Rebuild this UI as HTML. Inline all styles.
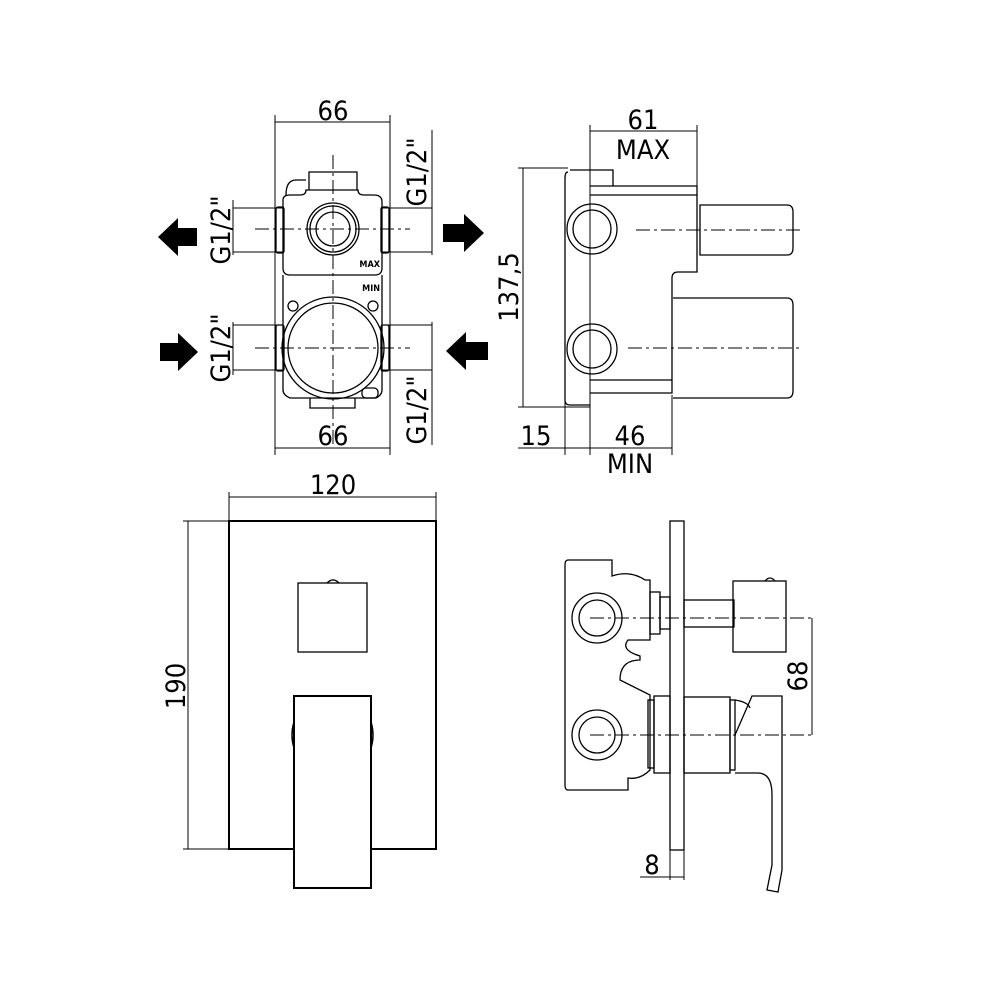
<!DOCTYPE html>
<html><head><style>body{margin:0;background:#fff}svg{display:block}text{font-family:"DejaVu Sans Condensed","DejaVu Sans","Liberation Sans Narrow",sans-serif;font-stretch:condensed;fill:#000}</style></head>
<body>
<svg width="1000" height="1000" viewBox="0 0 1000 1000" xmlns="http://www.w3.org/2000/svg">
<g fill="none" stroke="#000" stroke-width="1">
<!-- TOP LEFT VIEW -->
<line x1="275" y1="115" x2="275" y2="455"/><line x1="390" y1="115" x2="390" y2="455"/>
<line x1="275" y1="122" x2="390" y2="122"/><line x1="275" y1="448" x2="390" y2="448"/>
<line x1="233" y1="208" x2="283" y2="208"/><line x1="233" y1="252" x2="283" y2="252"/>
<line x1="382" y1="208" x2="432" y2="208"/><line x1="382" y1="252" x2="432" y2="252"/>
<line x1="233" y1="325" x2="283" y2="325"/><line x1="233" y1="370" x2="283" y2="370"/>
<line x1="382" y1="325" x2="432" y2="325"/><line x1="382" y1="370" x2="432" y2="370"/>
<line x1="432" y1="130" x2="432" y2="255"/><line x1="432" y1="322" x2="432" y2="445"/>
<line x1="233" y1="200" x2="233" y2="255"/><line x1="233" y1="322" x2="233" y2="375"/>
<g stroke-width="1.3">
<rect x="276" y="207" width="8" height="46" rx="2"/><rect x="381" y="207" width="8" height="46" rx="2"/>
<rect x="276" y="325" width="8" height="46" rx="2"/><rect x="381" y="325" width="8" height="46" rx="2"/>
<path d="M309 190 V172 h48 v18"/>
<path d="M283 200 Q283 195 290 195 H300 Q306 195 306 190 H358 Q358 195 364 195 H374 Q382 195 382 202 V268 Q382 275 375 275 H290 Q283 275 283 268 Z"/>
<path d="M283 275 V390 Q283 395 290 398 H376 Q382 395 382 390 V275"/>
<path d="M310 398 V408 H355 V398"/>
<path d="M286 195 Q286 180 296 180 H306"/>
<circle cx="333" cy="229" r="26"/><circle cx="333" cy="229" r="23"/><circle cx="333" cy="229" r="17"/>
<circle cx="333" cy="348" r="51"/><circle cx="333" cy="348" r="45"/>
<circle cx="293" cy="306" r="5"/><circle cx="373" cy="306" r="5"/>
<rect x="362" y="388" width="16" height="10" rx="4"/>
</g>
<g stroke-dasharray="14,4,3,4">
<line x1="333" y1="155" x2="333" y2="445"/>
<line x1="255" y1="229" x2="410" y2="229"/><line x1="255" y1="348" x2="410" y2="348"/>
</g>
<!-- TOP RIGHT VIEW -->
<line x1="518" y1="168" x2="568" y2="168"/><line x1="518" y1="407" x2="590" y2="407"/>
<line x1="523" y1="168" x2="523" y2="407"/>
<line x1="590" y1="125" x2="590" y2="455"/><line x1="697" y1="125" x2="697" y2="188"/>
<line x1="590" y1="131" x2="697" y2="131"/>
<line x1="565" y1="400" x2="565" y2="455"/><line x1="672" y1="395" x2="672" y2="455"/>
<line x1="518" y1="448" x2="672" y2="448"/>
<g stroke-width="1.3">
<path d="M568 172 Q565 172 565 178 V400 Q565 405 570 405 H590"/>
<path d="M570 170 H613 V186"/>
<path d="M590 186 H697 V272 H678 Q672 272 672 278 V393 H590"/>
<line x1="590" y1="195" x2="697" y2="195"/>
<line x1="590" y1="380" x2="672" y2="380"/>
<path d="M700 205 H787 Q793 205 793 212 V248 Q793 255 787 255 H700 Z"/>
<path d="M673 298 H787 Q793 298 793 305 V391 Q793 398 787 398 H673"/>
<circle cx="592" cy="229" r="25"/><circle cx="592" cy="229" r="19"/>
<circle cx="592" cy="349" r="25"/><circle cx="592" cy="349" r="19"/>
</g>
<g stroke-dasharray="14,4,3,4">
<line x1="636" y1="230" x2="802" y2="230"/><line x1="628" y1="348" x2="802" y2="348"/>
</g>
<!-- BOTTOM LEFT VIEW -->
<line x1="229" y1="492" x2="229" y2="520"/><line x1="436" y1="492" x2="436" y2="520"/>
<line x1="229" y1="497" x2="436" y2="497"/>
<line x1="183" y1="521" x2="229" y2="521"/><line x1="183" y1="849" x2="229" y2="849"/>
<line x1="188" y1="521" x2="188" y2="849"/>
<g stroke-width="2">
<rect x="229" y="521" width="207" height="328"/>
<rect x="298" y="583" width="69" height="69" stroke-width="1.3"/>
<rect x="294" y="696" width="77" height="192" fill="#fff"/>
</g>
<path d="M327 583 Q333 577 339 583" stroke-width="1.3"/>
<path d="M294 722 Q290 735 294 748 M371 722 Q375 735 371 748" stroke-width="1.5"/>
<!-- BOTTOM RIGHT VIEW -->
<g stroke-width="1.3">
<rect x="670" y="521" width="14" height="329"/>
<path d="M568 560 H612 V576 Q630 570 645 580 H650 V640 H628 Q620 650 640 656 V660 Q620 660 620 680 Q640 690 650 695 V770 Q640 780 628 778 V790 H568 Q565 790 565 785 V565 Q565 560 568 560"/>
<rect x="650" y="592" width="10" height="42"/>
<rect x="660" y="597" width="10" height="32"/>
<rect x="684" y="600" width="50" height="27"/>
<rect x="733" y="581" width="53" height="71"/>
<path d="M765 581 Q770 575 775 581"/>
<rect x="648" y="700" width="6" height="68"/>
<rect x="654" y="696" width="16" height="77"/>
<rect x="684" y="697" width="46" height="76"/>
<rect x="730" y="700" width="5" height="70"/>
<path d="M735 700 Q748 702 750 708 M735 735 L752 696 H782 V870 L778 892 L767 890 L772 865 V795 Q772 773 758 773 H735"/>
<circle cx="597" cy="618" r="25"/><circle cx="597" cy="618" r="18"/>
<circle cx="597" cy="735" r="25"/><circle cx="597" cy="735" r="18"/>
</g>
<g stroke-dasharray="14,4,3,4">
<line x1="590" y1="618" x2="815" y2="618"/><line x1="590" y1="735" x2="815" y2="735"/>
</g>
<line x1="812" y1="618" x2="812" y2="735"/>
<line x1="670" y1="850" x2="670" y2="880"/><line x1="684" y1="850" x2="684" y2="880"/>
<line x1="640" y1="877" x2="684" y2="877"/>
</g>
<!-- arrows -->
<g fill="#000">
<polygon points="158,237 178,218 178,228 197,228 197,246 178,246 178,256"/>
<polygon points="484,233 464,214 464,224 443,224 443,242 464,242 464,252"/>
<polygon points="198,352 178,333 178,343 160,343 160,361 178,361 178,371"/>
<polygon points="446,351 466,332 466,342 488,342 488,360 466,360 466,370"/>
</g>
<g font-size="27" text-anchor="middle">
<text x="333" y="120">66</text>
<text x="333" y="445">66</text>
<text x="643" y="129">61</text>
<text x="643" y="159">MAX</text>
<text x="536" y="445">15</text>
<text x="630" y="445">46</text>
<text x="630" y="473">MIN</text>
<text x="333" y="494">120</text>
<text x="652" y="874">8</text>
<text transform="translate(230,230) rotate(-90)">G1/2"</text>
<text transform="translate(230,348) rotate(-90)">G1/2"</text>
<text transform="translate(426,172) rotate(-90)">G1/2"</text>
<text transform="translate(426,410) rotate(-90)">G1/2"</text>
<text transform="translate(518,287) rotate(-90)">137,5</text>
<text transform="translate(185,686) rotate(-90)">190</text>
<text transform="translate(807,676) rotate(-90)">68</text>
</g>
<g font-size="9" font-weight="bold" text-anchor="end">
<text x="380" y="267">MAX</text><text x="380" y="291">MIN</text>
</g>
</svg>
</body></html>
